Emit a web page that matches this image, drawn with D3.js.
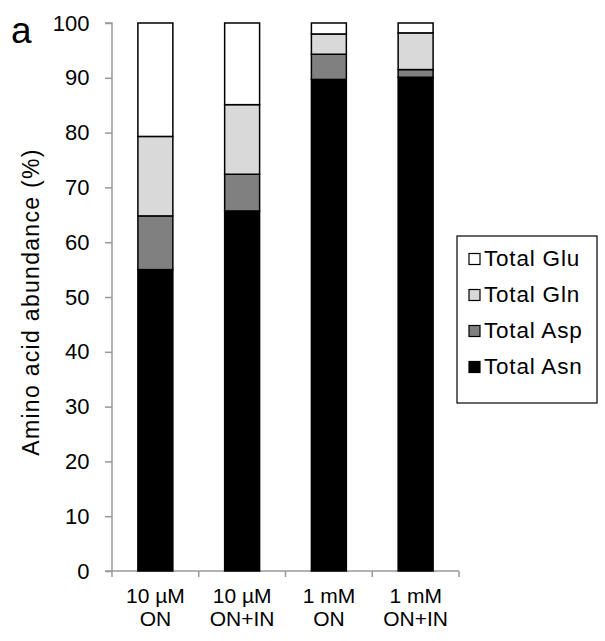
<!DOCTYPE html>
<html><head><meta charset="utf-8">
<script src="https://cdn.jsdelivr.net/npm/d3@7"></script>
<style>body{margin:0;background:#fff}svg{display:block}text{font-family:"Liberation Sans",Arial,sans-serif;fill:#000}</style>
</head><body><svg id="c" width="605" height="641"></svg>
<script>
const categories = [["10 µM","ON"],["10 µM","ON+IN"],["1 mM","ON"],["1 mM","ON+IN"]];
const seriesNames = ["Total Asn","Total Asp","Total Gln","Total Glu"];
const asn = [55.0, 65.7, 89.7, 90.1];
const asp = [9.8, 6.7, 4.6, 1.4];
const gln = [14.5, 12.7, 3.7, 6.7];
const glu = [20.7, 14.9, 2.0, 1.8];
const yTicks = [0,10,20,30,40,50,60,70,80,90,100];
const colors = ["#000000","#808080","#d9d9d9","#ffffff"];

const svg = d3.select("#c");
const pL = 112, pR = 459, pT = 23, pB = 571;
const rows = categories.map((c,i)=>({key:i, "Total Asn":asn[i], "Total Asp":asp[i], "Total Gln":gln[i], "Total Glu":glu[i]}));
const stack = d3.stack().keys(seriesNames)(rows);
const x = d3.scaleBand().domain(d3.range(categories.length)).range([pL,pR]).paddingInner(0).paddingOuter(0);
const y = d3.scaleLinear().domain([0,100]).range([pB,pT]);
const bw = x.bandwidth()*0.403;

// axes
const gy = svg.append("g").attr("transform",`translate(${pL},0)`)
  .call(d3.axisLeft(y).tickValues(yTicks).tickSize(7).tickPadding(15.5).tickFormat(d3.format("d")));
gy.select(".domain").attr("stroke","#999").attr("stroke-width",1.5).attr("d",`M-7,${pT}H0V${pB}`);
gy.selectAll(".tick line").attr("stroke","#999").attr("stroke-width",1.5);
gy.selectAll(".tick text").style("font-size","22px").style("font-family","Liberation Sans, Arial, sans-serif").attr("fill","#000");

const gx = svg.append("g").attr("transform",`translate(0,${pB})`);
gx.append("line").attr("x1",pL-7).attr("x2",pR).attr("y1",0).attr("y2",0).attr("stroke","#999").attr("stroke-width",1.5);
const bounds = d3.range(categories.length+1).map(i=> i<categories.length? x(i) : x(i-1)+x.bandwidth());
gx.selectAll(".xt").data(bounds).enter().append("line").attr("x1",d=>d).attr("x2",d=>d).attr("y1",0).attr("y2",6).attr("stroke","#999").attr("stroke-width",1.5);

// bars
svg.append("g").selectAll("g").data(stack).enter().append("g")
  .attr("fill",(d,i)=>colors[i])
  .selectAll("rect").data(d=>d).enter().append("rect")
  .attr("x",(d,i)=>x(i)+x.bandwidth()/2-bw/2)
  .attr("width",bw)
  .attr("y",d=>y(d[1]))
  .attr("height",d=>y(d[0])-y(d[1]))
  .attr("stroke","#000").attr("stroke-width",1.5);

// x labels
const xl = svg.append("g");
categories.forEach((c,i)=>{
  const cx = x(i)+x.bandwidth()/2;
  const t = xl.append("text").attr("text-anchor","middle").style("font-size","21px");
  t.append("tspan").attr("x",cx).attr("y",603).text(c[0]);
  t.append("tspan").attr("x",cx).attr("y",626).text(c[1]);
});

// y title
svg.append("text").attr("transform",`translate(39,302) rotate(-90)`).attr("text-anchor","middle")
  .style("font-size","23px").style("letter-spacing","1.3px").text("Amino acid abundance (%)");
// panel letter
svg.append("text").attr("x",11).attr("y",43).style("font-size","37px").text("a");

// legend
const lg = svg.append("g");
lg.append("rect").attr("x",457).attr("y",236).attr("width",140).attr("height",167).attr("fill","#fff").attr("stroke","#000").attr("stroke-width",1.2);
const legendOrder = ["Total Glu","Total Gln","Total Asp","Total Asn"];
legendOrder.forEach((n,j)=>{
  const base = 266 + j*36;
  const ci = seriesNames.indexOf(n);
  lg.append("rect").attr("x",469).attr("y",base-12.5).attr("width",11).attr("height",11).attr("fill",colors[ci]).attr("stroke","#000").attr("stroke-width",1.2);
  lg.append("text").attr("x",484).attr("y",base).style("font-size","22.5px").style("letter-spacing","0.8px").text(n);
});
</script></body></html>
